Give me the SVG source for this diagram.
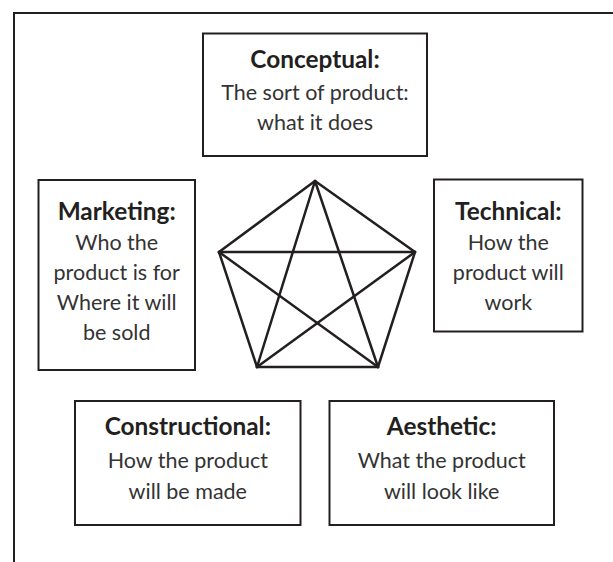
<svg xmlns="http://www.w3.org/2000/svg" width="613" height="562" viewBox="0 0 613 562">
<style>
.frame{fill:none;stroke:#231f20;stroke-width:2}
.box{fill:#fff;stroke:#231f20;stroke-width:2}
.edge{stroke:#231f20;stroke-width:2.5;stroke-linecap:round;fill:none}
.t{font-family:Lato,"Open Sans",sans-serif;font-size:24.4px;font-weight:700;fill:#231f20;text-anchor:middle}
.b{font-family:Lato,"Open Sans",sans-serif;font-size:21.5px;font-weight:400;fill:#333;text-anchor:middle}
</style>
<rect width="613" height="562" fill="#fff"/>
<path class="frame" d="M14 562 V13 H613"/>
<g id="connectors">
<line class="edge" x1="315" y1="181" x2="219" y2="252"/>
<line class="edge" x1="315" y1="181" x2="415" y2="252"/>
<line class="edge" x1="219" y1="252" x2="257" y2="367"/>
<line class="edge" x1="415" y1="252" x2="378" y2="367"/>
<line class="edge" x1="257" y1="367" x2="378" y2="367"/>
<line class="edge" x1="219" y1="252" x2="415" y2="252"/>
<line class="edge" x1="315" y1="181" x2="257" y2="367"/>
<line class="edge" x1="315" y1="181" x2="378" y2="367"/>
<line class="edge" x1="219" y1="252" x2="378" y2="367"/>
<line class="edge" x1="415" y1="252" x2="257" y2="367"/>
</g>
<g id="conceptual">
<rect class="box" x="203" y="33.5" width="224" height="122.5"/>
<text class="t" x="315" y="68">Conceptual:</text>
<text class="b" x="315" y="100">The sort of product:</text>
<text class="b" x="315" y="130">what it does</text>
</g>
<g id="marketing">
<rect class="box" x="38.5" y="180" width="156.5" height="190"/>
<text class="t" x="116.7" y="220">Marketing:</text>
<text class="b" x="116.7" y="250">Who the</text>
<text class="b" x="116.7" y="280">product is for</text>
<text class="b" x="116.7" y="310">Where it will</text>
<text class="b" x="116.7" y="340">be sold</text>
</g>
<g id="technical">
<rect class="box" x="434" y="179.5" width="148.5" height="152"/>
<text class="t" x="508.3" y="220">Technical:</text>
<text class="b" x="508.3" y="250">How the</text>
<text class="b" x="508.3" y="280">product will</text>
<text class="b" x="508.3" y="310">work</text>
</g>
<g id="constructional">
<rect class="box" x="75" y="401" width="225.5" height="124"/>
<text class="t" x="187.8" y="435">Constructional:</text>
<text class="b" x="187.8" y="467.5">How the product</text>
<text class="b" x="187.8" y="499">will be made</text>
</g>
<g id="aesthetic">
<rect class="box" x="329.5" y="401" width="224.5" height="124"/>
<text class="t" x="441.7" y="435">Aesthetic:</text>
<text class="b" x="441.7" y="467.5">What the product</text>
<text class="b" x="441.7" y="499">will look like</text>
</g>
</svg>
